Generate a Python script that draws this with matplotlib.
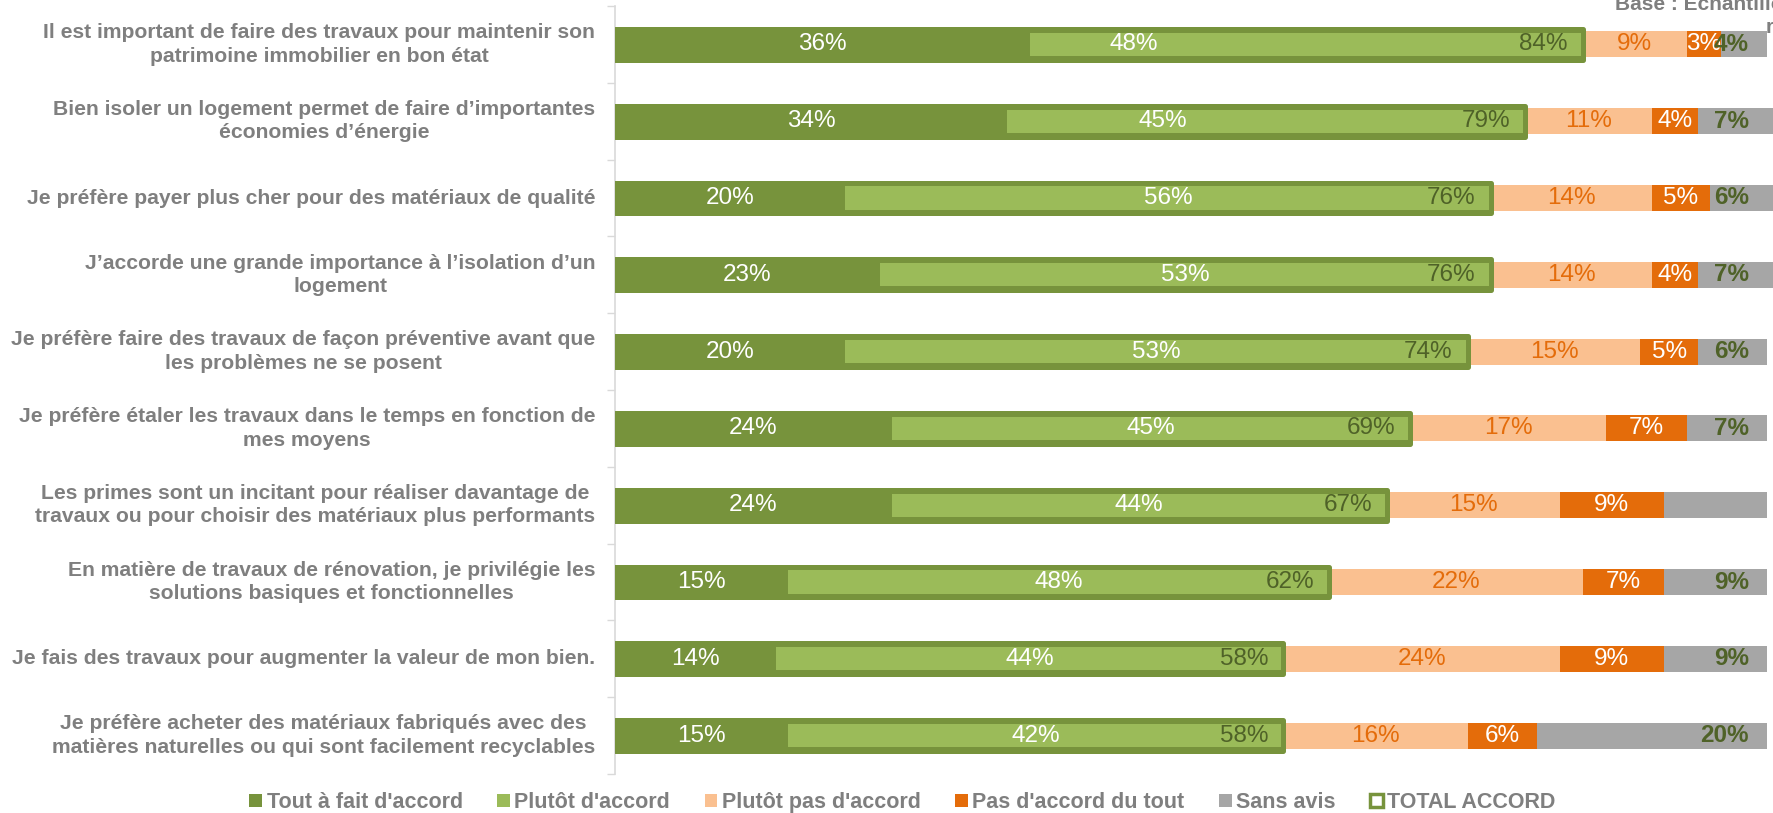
import matplotlib.pyplot as plt
from matplotlib.patches import Patch
from matplotlib.transforms import blended_transform_factory

plt.rcParams['font.family'] = ['Liberation Sans', 'DejaVu Sans']

# donnees (en %)
categories = [
    "Il est important de faire des travaux pour maintenir son\npatrimoine immobilier en bon état",
    "Bien isoler un logement permet de faire d\u2019importantes\néconomies d\u2019énergie",
    "Je préfère payer plus cher pour des matériaux de qualité",
    "J\u2019accorde une grande importance à l\u2019isolation d\u2019un\nlogement",
    "Je préfère faire des travaux de façon préventive avant que\nles problèmes ne se posent",
    "Je préfère étaler les travaux dans le temps en fonction de\nmes moyens",
    "Les primes sont un incitant pour réaliser davantage de\ntravaux ou pour choisir des matériaux plus performants",
    "En matière de travaux de rénovation, je privilégie les\nsolutions basiques et fonctionnelles",
    "Je fais des travaux pour augmenter la valeur de mon bien.",
    "Je préfère acheter des matériaux fabriqués avec des\nmatières naturelles ou qui sont facilement recyclables",
]
tout_accord = [36, 34, 20, 23, 20, 24, 24, 15, 14, 15]
plutot_accord = [48, 45, 56, 53, 53, 45, 44, 48, 44, 42]
total_accord = [84, 79, 76, 76, 74, 69, 67, 62, 58, 58]
plutot_pas = [9, 11, 14, 14, 15, 17, 15, 22, 24, 16]
pas_du_tout = [3, 4, 5, 4, 5, 7, 9, 7, 9, 6]
sans_avis = [4, 7, 6, 7, 6, 7, 9, 9, 9, 20]
sans_avis_labels = ["4%", "7%", "6%", "7%", "6%", "7%", "", "9%", "9%", "20%"]

legend_labels = ["Tout à fait d'accord", "Plutôt d'accord", "Plutôt pas d'accord",
                 "Pas d'accord du tout", "Sans avis", "TOTAL ACCORD"]

c_tout = "#77933C"
c_plutot = "#9BBB59"
c_ppas = "#FAC090"
c_pas = "#E46C0A"
c_sans = "#A6A6A6"
c_dark = "#4F6228"
c_text = "#7F7F7F"

# decalage manuel des etiquettes "Plutot d'accord" (comme dans l'original)
plutot_shift = {0: -15, 1: -9}

fig = plt.figure(figsize=(17.73, 8.13), dpi=100)
ax = fig.add_axes([615 / 1773, 39 / 813, 1158 / 1773, 768 / 813])

y = list(range(len(categories)))
h_tot = 0.40
h_tout = 0.44
h_plu = 0.30
h_dis = 0.34
pct = 17.5

for i in y:
    tot = total_accord[i]
    ax.barh(i, tot, height=h_tot, color=c_tout, linewidth=0, zorder=2)
    ax.barh(i, tout_accord[i], height=h_tout, color=c_tout, linewidth=0, zorder=3)
    ax.barh(i, tot - tout_accord[i], left=tout_accord[i], height=h_plu,
            color=c_plutot, linewidth=0, zorder=4)
    ax.barh(i, tot, height=h_tot, facecolor="none", edgecolor=c_tout,
            linewidth=3.6, joinstyle="round", zorder=5)
    left = tot
    ax.barh(i, plutot_pas[i], left=left, height=h_dis, color=c_ppas, linewidth=0, zorder=2)
    ax.text(left + plutot_pas[i] / 2, i, f"{plutot_pas[i]}%", ha="center", va="center",
            color=c_pas, fontsize=pct, zorder=6)
    left += plutot_pas[i]
    ax.barh(i, pas_du_tout[i], left=left, height=h_dis, color=c_pas, linewidth=0, zorder=2)
    ax.text(left + pas_du_tout[i] / 2, i, f"{pas_du_tout[i]}%", ha="center", va="center",
            color="white", fontsize=pct, zorder=6)
    left += pas_du_tout[i]
    ax.barh(i, sans_avis[i], left=left, height=h_dis, color=c_sans, linewidth=0, zorder=2)
    ax.text(98.4, i, sans_avis_labels[i], ha="right", va="center", color=c_dark,
            fontsize=pct, fontweight="bold", zorder=6)

    ax.text(tout_accord[i] / 2, i, f"{tout_accord[i]}%", ha="center", va="center",
            color="white", fontsize=pct, zorder=6)
    xp = tout_accord[i] + (tot - tout_accord[i]) / 2 + plutot_shift.get(i, 0)
    ax.text(xp, i, f"{plutot_accord[i]}%", ha="center", va="center",
            color="white", fontsize=pct, zorder=6)
    ax.text(tot - 1.3, i, f"{tot}%", ha="right", va="center", color=c_dark,
            fontsize=pct, zorder=6)

ax.set_xlim(0, 100.5)
ax.set_ylim(len(categories) - 0.5, -0.5)
ax.set_xticks([])
ax.set_yticks([k - 0.5 for k in range(len(categories) + 1)])
ax.set_yticklabels([])
ax.tick_params(axis="y", length=6, width=1, color="#D9D9D9")
for s in ["top", "right", "bottom"]:
    ax.spines[s].set_visible(False)
ax.spines["left"].set_color("#D9D9D9")
ax.spines["left"].set_linewidth(1.2)

tr = blended_transform_factory(ax.transAxes, ax.transData)
for i, lab in enumerate(categories):
    ax.text(-0.017, i, lab, transform=tr, ha="right", va="center", multialignment="center",
            fontsize=15.2, fontweight="bold", color=c_text, linespacing=1.3)

handles = [Patch(facecolor=c_tout), Patch(facecolor=c_plutot), Patch(facecolor=c_ppas),
           Patch(facecolor=c_pas), Patch(facecolor=c_sans),
           Patch(facecolor="white", edgecolor=c_tout, linewidth=2.5)]
leg = fig.legend(handles, legend_labels, loc="center", bbox_to_anchor=(0.509, 0.013), ncol=6,
                 frameon=False, handlelength=0.6, handleheight=0.6, handletextpad=0.2,
                 columnspacing=1.6, prop={"size": 15.5, "weight": "bold"})
for t in leg.get_texts():
    t.set_color(c_text)

# texte de base coupe en haut a droite, comme dans l'original
fig.text(1615 / 1773, 1 - 10 / 813, "Base : Echantillon total", ha="left", va="baseline",
         fontsize=15, fontweight="bold", color=c_text)
fig.text(1766 / 1773, 1 - 33 / 813, "répondants", ha="left", va="baseline",
         fontsize=15, fontweight="bold", color=c_text)

fig.savefig("out.png", dpi=100)
